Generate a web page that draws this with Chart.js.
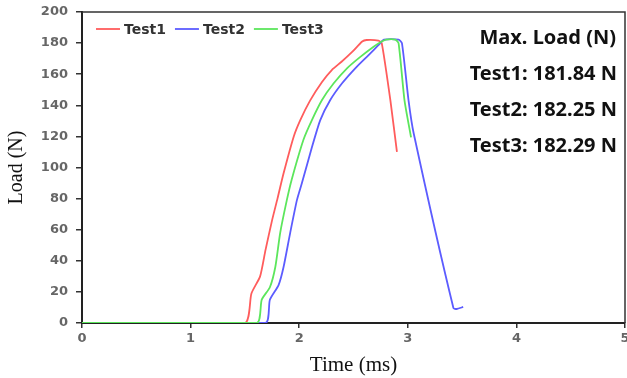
<!DOCTYPE html>
<html>
<head>
<meta charset="utf-8">
<script src="https://cdn.jsdelivr.net/npm/chart.js@4"></script>
<style>
    html, body { margin: 0; padding: 0; background: #fff; }
    #wrap { width: 627px; height: 378px; }
</style>
</head>
<body>
<div id="wrap"><canvas id="load-chart" width="627" height="378"></canvas></div>
<script>
const seriesNames = ['Test1', 'Test2', 'Test3'];
const seriesColors = ['#ff5c5c', '#5c5cff', '#5ce65c'];

const test1Time = [0, 1.50, 1.56, 1.64, 1.69, 1.75, 1.80, 1.855, 1.95, 2.01, 2.10, 2.21, 2.30, 2.39, 2.49, 2.58, 2.62, 2.73, 2.76, 2.84, 2.90];
const test1Load = [0, 0, 19, 30, 47, 66, 80, 96, 120, 130.5, 143, 155, 162.7, 168, 174.5, 181, 182, 181.6, 180, 143, 110];

const test2Time = [0, 1.69, 1.73, 1.81, 1.856, 1.917, 1.979, 2.025, 2.117, 2.194, 2.286, 2.393, 2.516, 2.639, 2.731, 2.78, 2.915, 2.946, 3.007, 3.054, 3.42, 3.45, 3.51];
const test2Load = [0, 0, 15, 24.4, 36, 58, 79, 90, 113, 130.5, 143.4, 154, 163.8, 172.3, 178.8, 182.2, 182.2, 180, 143, 122, 9.6, 9, 10.3];

const test3Time = [0, 1.61, 1.655, 1.73, 1.78, 1.825, 1.886, 1.93, 2.04, 2.117, 2.21, 2.316, 2.44, 2.56, 2.685, 2.76, 2.80, 2.885, 2.915, 2.97, 3.03];
const test3Load = [0, 0, 15, 23, 36, 58, 79, 92, 118, 130.5, 143.4, 154, 163.8, 171, 177.7, 181, 182.3, 182.3, 180, 143, 119.4];

const timeTicks = [0, 1, 2, 3, 4, 5];
const loadTicks = [0, 20, 40, 60, 80, 100, 120, 140, 160, 180, 200];

const maxLoadTitle = 'Max. Load (N)';
const maxLoadLines = ['Test1: 181.84 N', 'Test2: 182.25 N', 'Test3: 182.29 N'];

const toPoints = (times, loads) => times.map((t, i) => ({ x: t, y: loads[i] }));
const allSeries = [
    toPoints(test1Time, test1Load),
    toPoints(test2Time, test2Load),
    toPoints(test3Time, test3Load),
];

// frame, legend inside the plot and the max load notes
const extrasPlugin = {
    id: 'extras',
    afterDraw(chart) {
        const ctx = chart.ctx;
        const area = chart.chartArea;
        ctx.save();
        ctx.strokeStyle = '#333';
        ctx.lineWidth = 1.5;
        ctx.beginPath();
        ctx.moveTo(area.left, area.top);
        ctx.lineTo(area.right, area.top);
        ctx.lineTo(area.right, area.bottom);
        ctx.stroke();

        // legend
        let x = area.left + 14;
        const y = area.top + 17;
        ctx.font = 'bold 14px "DejaVu Sans"';
        ctx.textBaseline = 'middle';
        chart.data.datasets.forEach((ds) => {
            ctx.strokeStyle = ds.borderColor;
            ctx.lineWidth = 1.8;
            ctx.beginPath();
            ctx.moveTo(x, y);
            ctx.lineTo(x + 24, y);
            ctx.stroke();
            ctx.fillStyle = '#333';
            ctx.fillText(ds.label, x + 28, y + 1);
            x += 28 + ctx.measureText(ds.label).width + 9;
        });

        // max load text
        ctx.fillStyle = '#111';
        ctx.textAlign = 'right';
        ctx.textBaseline = 'alphabetic';
        ctx.font = 'bold 20px "Noto Sans"';
        ctx.fillText(maxLoadTitle, 616, 44);
        const baselines = [80, 116, 152];
        maxLoadLines.forEach((line, i) => {
            ctx.fillText(line, 617, baselines[i]);
        });
        ctx.restore();
    },
};

const graph = document.getElementById('load-chart');
const config = {
    type: 'line',
    data: {
        datasets: seriesNames.map((name, i) => ({
            label: name,
            data: allSeries[i],
            borderColor: seriesColors[i],
            borderWidth: 1.8,
            pointRadius: 0,
            tension: 0.2,
            fill: false,
            order: 3 - i,
        })),
    },
    options: {
        responsive: false,
        animation: false,
        layout: { padding: { top: 12, right: 2, left: 0, bottom: 0 } },
        plugins: {
            legend: { display: false },
            tooltip: { enabled: false },
        },
        scales: {
            x: {
                type: 'linear',
                min: 0,
                max: 5,
                afterBuildTicks: (scale) => {
                    scale.ticks = timeTicks.map((v) => ({ value: v }));
                },
                afterFit: (scale) => {
                    scale.height = 55;
                    scale.paddingLeft = 0;
                    scale.paddingRight = 0;
                },
                ticks: {
                    color: '#666',
                    font: { family: 'DejaVu Sans', size: 13, weight: 'bold' },
                    padding: 3,
                    maxRotation: 0,
                },
                grid: { drawOnChartArea: false, drawTicks: true, tickLength: 5, color: '#333', lineWidth: 1.5 },
                border: { color: '#222', width: 2 },
                title: {
                    display: true,
                    text: 'Time (ms)',
                    color: '#111',
                    font: { family: 'Liberation Serif', size: 21 },
                    padding: { top: 0, bottom: 0 },
                },
            },
            y: {
                min: 0,
                max: 200,
                afterBuildTicks: (scale) => {
                    scale.ticks = loadTicks.map((v) => ({ value: v }));
                },
                afterFit: (scale) => {
                    scale.width = 82;
                    scale.paddingTop = 0;
                    scale.paddingBottom = 0;
                },
                ticks: {
                    color: '#666',
                    font: { family: 'DejaVu Sans', size: 13, weight: 'bold' },
                    padding: 8,
                },
                grid: { drawOnChartArea: false, drawTicks: true, tickLength: 6, color: '#333', lineWidth: 1.5 },
                border: { color: '#222', width: 2 },
                title: {
                    display: true,
                    text: 'Load (N)',
                    color: '#111',
                    font: { family: 'Liberation Serif', size: 20 },
                    padding: { top: 5, bottom: 0 },
                },
            },
        },
    },
    plugins: [extrasPlugin],
};
new Chart(graph, config);
</script>
</body>
</html>
